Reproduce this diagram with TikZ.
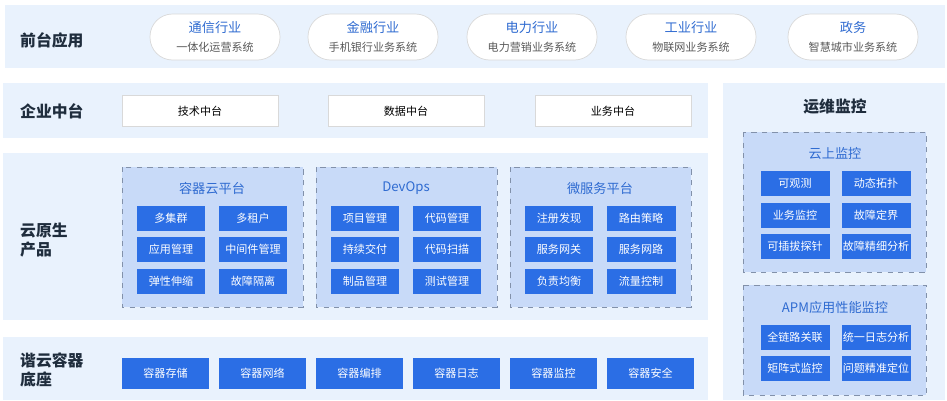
\documentclass[tikz,border=0pt]{standalone}
\usepackage{fontspec}
\setmainfont{Noto Sans CJK SC}
\usetikzlibrary{positioning}
\definecolor{bandbg}{RGB}{233,242,253}
\definecolor{groupbg}{RGB}{200,218,248}
\definecolor{boxblue}{RGB}{43,110,229}
\definecolor{titleblue}{RGB}{47,107,209}
\definecolor{labeldark}{RGB}{31,45,61}
\definecolor{dashgray}{RGB}{130,145,170}
\begin{document}
\begin{tikzpicture}[x=0.02cm, y=-0.02cm,
  band/.style={fill=bandbg, draw=none},
  grp/.style={fill=groupbg, draw=dashgray, dashed, line width=0.5pt},
  lbl/.style={font=\fontsize{9}{11}\selectfont\bfseries, text=labeldark, align=left, anchor=west},
  gtitle/.style={font=\fontsize{7.5}{9}\selectfont, text=titleblue},
  bluebox/.style={fill=boxblue, text=white, font=\fontsize{6.3}{8}\selectfont,
    minimum width=1.38cm, minimum height=0.5cm, inner sep=0pt},
  basebox/.style={bluebox, minimum width=1.74cm, minimum height=0.62cm},
  whitebox/.style={fill=white, draw=black!15, font=\fontsize{6.3}{8}\selectfont,
    minimum width=3.12cm, minimum height=0.62cm, inner sep=0pt},
  pill/.style={fill=white, draw=black!15, rounded corners=0.45cm, align=center,
    minimum width=2.6cm, minimum height=0.92cm, inner sep=0pt}]
\useasboundingbox (0,0) rectangle (947,400);
% Bands
\fill[band] (5,5) rectangle (945,68);
\fill[band] (3,83) rectangle (708,138);
\fill[band] (3,153) rectangle (708,320);
\fill[band] (3,337) rectangle (708,400);
\fill[band] (723,83) rectangle (945,400);
\node[lbl] (front) at (14,40) {前台应用};
\node[lbl] (ent) at (14,111) {企业中台};
\node[lbl] (cloud) at (14,240) {云原生\\产品};
\node[lbl] (base) at (14,370) {谐云容器\\底座};
\node[font=\fontsize{9}{11}\selectfont\bfseries, text=labeldark] (ops) at (835,107) {运维监控};
% Front apps
\foreach \x/\t/\s [count=\i] in {215/通信行业/一体化运营系统, 373/金融行业/手机银行业务系统,
    532/电力行业/电力营销业务系统, 691/工业行业/物联网业务系统, 853/政务/智慧城市业务系统}
  \node[pill] (app\i) at (\x,37) {{\fontsize{7.5}{10}\selectfont\color{titleblue}\t}\\[-1pt]{\fontsize{6.3}{8}\selectfont\color{black!65}\s}};
% Middle platforms
\foreach \x/\t [count=\i] in {200/技术中台, 406/数据中台, 613/业务中台}
  \node[whitebox] (mid\i) at (\x,111) {\t};
% Cloud native groups
\foreach \gx/\gt/\a/\b/\c/\d/\e/\f [count=\g] in {
    122/容器云平台/多集群/多租户/应用管理/中间件管理/弹性伸缩/故障隔离,
    316/DevOps/项目管理/代码管理/持续交付/代码扫描/制品管理/测试管理,
    510/微服务平台/注册发现/路由策略/服务网关/服务网路/负责均衡/流量控制} {
  \draw[grp] (\gx,167) rectangle ++(181,140);
  \node[gtitle] (g\g) at (\gx+90,188) {\gt};
  \node[bluebox] (g\g a) at (\gx+49,218) {\a};
  \node[bluebox] (g\g b) at (\gx+131,218) {\b};
  \node[bluebox] (g\g c) at (\gx+49,249) {\c};
  \node[bluebox] (g\g d) at (\gx+131,249) {\d};
  \node[bluebox] (g\g e) at (\gx+49,281) {\e};
  \node[bluebox] (g\g f) at (\gx+131,281) {\f};
}
% Container base
\foreach \t [count=\i] in {容器存储, 容器网络, 容器编排, 容器日志, 容器监控, 容器安全}
  \node[basebox] (base\i) at (165.5+97*\i-97,373) {\t};
% Monitoring
\draw[grp] (743,132) rectangle (926,272);
\node[gtitle] (mon) at (835,153) {云上监控};
\foreach \y/\a/\b [count=\i] in {183/可观测/动态拓扑, 215/业务监控/故障定界, 246/可插拔探针/故障精细分析} {
  \node[bluebox] (m\i a) at (795,\y) {\a};
  \node[bluebox] (m\i b) at (876,\y) {\b};
}
\draw[grp] (743,285) rectangle (926,395);
\node[gtitle] (apm) at (835,307) {APM应用性能监控};
\foreach \y/\a/\b [count=\i] in {337/全链路关联/统一日志分析, 368/矩阵式监控/问题精准定位} {
  \node[bluebox] (p\i a) at (795,\y) {\a};
  \node[bluebox] (p\i b) at (876,\y) {\b};
}
\end{tikzpicture}
\end{document}
